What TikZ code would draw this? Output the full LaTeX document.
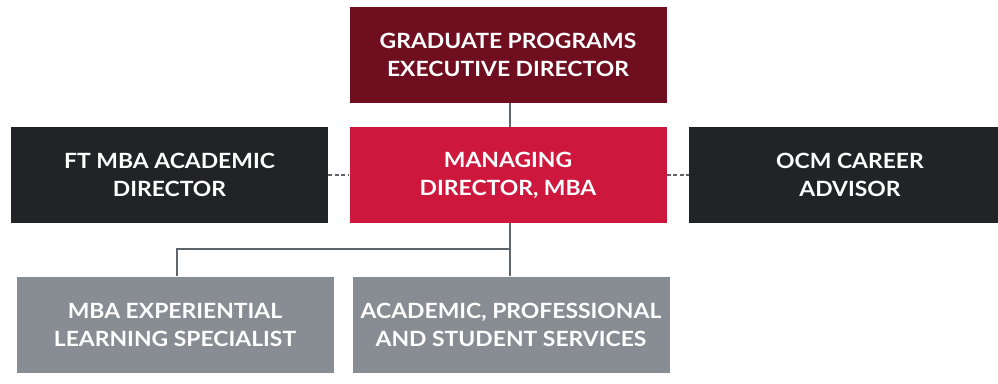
\documentclass[tikz,border=0pt]{standalone}
\usepackage{fontspec}
\setmainfont{Lato}[FakeStretch=1.09]
\definecolor{wine}{HTML}{6E0E1F}
\definecolor{crimson}{HTML}{CD173D}
\definecolor{charcoal}{HTML}{222326}
\definecolor{slate}{HTML}{878D92}
\definecolor{wire}{HTML}{5F666B}
\tikzset{
  role/.style={rectangle, minimum width=317pt, minimum height=96pt, inner sep=0pt,
    text=white, align=center, font=\fontsize{21}{28}\selectfont\bfseries},
  link/.style={draw=wire, line width=2.8pt},
  peer/.style={draw=wire, line width=2.4pt, dash pattern=on 4pt off 2.5pt},
}
\begin{document}
\begin{tikzpicture}[x=1pt,y=-1pt]
  \useasboundingbox[fill=white] (0,0) rectangle (998,383);
  % junction where the two lower roles branch off
  \coordinate (j) at (510,249);
  \node[role, fill=wine]     (top) at (508,55)    {GRADUATE PROGRAMS\\EXECUTIVE DIRECTOR};
  \node[role, fill=crimson]  (mid) at (508,175)   {MANAGING\\DIRECTOR, MBA};
  \node[role, fill=charcoal] (ft)  at (169.5,175) {FT MBA ACADEMIC\\DIRECTOR};
  \node[role, fill=charcoal, minimum width=322pt] (ocm) at (850,175) {OCM CAREER\\ADVISOR};
  \node[role, fill=slate]    (exp) at (175,324.5) {MBA EXPERIENTIAL\\LEARNING SPECIALIST};
  \node[role, fill=slate]    (aps) at (511,324.5) {ACADEMIC, PROFESSIONAL\\AND STUDENT SERVICES};
  % reporting lines
  \draw[link] (top.south -| j) -- (mid.north -| j);
  \draw[link] (mid.south -| j) -- (aps.north -| j);
  \draw[link] (j) -| ([xshift=2pt]exp.north);
  % dotted peer links
  \draw[peer] (ft.east) -- (mid.west);
  \draw[peer] (mid.east) -- (ocm.west);
\end{tikzpicture}
\end{document}
